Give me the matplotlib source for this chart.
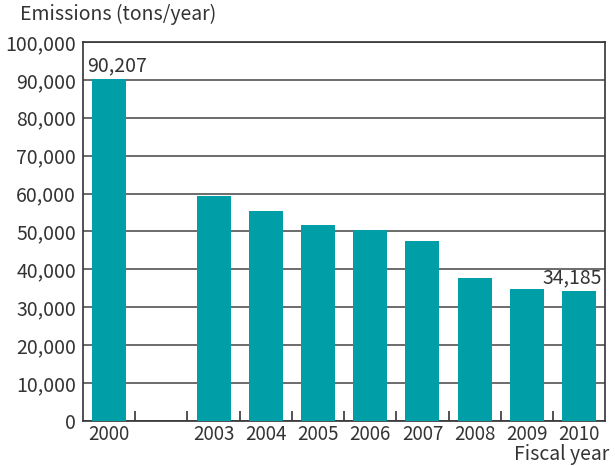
import matplotlib.pyplot as plt
from matplotlib.ticker import FuncFormatter, FixedLocator

# data (2001 and 2002 are empty slots)
years = ["2000", "", "2003", "2004", "2005", "2006", "2007", "2008", "2009", "2010"]
emissions = [90207, None, 59300, 55300, 51800, 50300, 47400, 37600, 34700, 34185]

plt.rcParams['font.family'] = ['Noto Sans CJK JP', 'DejaVu Sans']
text_color = "#333333"
bar_color = "#009FA8"
fs = 14

fig = plt.figure(figsize=(6.15, 4.66), dpi=100)
ax = fig.add_axes([0.135, 0.0966, 0.849, 0.8134])

xs = [i for i, v in enumerate(emissions) if v is not None]
vals = [v for v in emissions if v is not None]
ax.bar(xs, vals, width=0.65, color=bar_color, zorder=3)

ax.set_xlim(-0.5, len(years) - 0.5)
ax.set_ylim(0, 100000)
ax.set_yticks(range(0, 100001, 10000))
ax.yaxis.set_major_formatter(FuncFormatter(lambda v, p: f"{int(v):,}"))
ax.grid(axis="y", color="#444444", linewidth=1.1, zorder=1)

ax.set_xticks(range(len(years)))
ax.set_xticklabels(years)
ax.xaxis.set_minor_locator(FixedLocator([i + 0.5 for i in range(len(years) - 1)]))
ax.tick_params(axis="x", which="major", length=0, pad=2, labelsize=13.5, colors=text_color)
ax.tick_params(axis="x", which="minor", direction="in", length=7, width=1.2, color="#333333")
ax.tick_params(axis="y", length=0, pad=5, labelsize=fs, colors=text_color)

for s in ax.spines.values():
    s.set_color("#333333")
    s.set_linewidth(1.2)

# value labels on first and last bar
ax.annotate("90,207", (0, emissions[0]), xytext=(6, 2), textcoords="offset points",
            ha="center", va="bottom", fontsize=fs, color=text_color)
ax.annotate("34,185", (9, emissions[-1]), xytext=(-5, 2), textcoords="offset points",
            ha="center", va="bottom", fontsize=fs, color=text_color)

fig.text(0.032, 0.968, "Emissions (tons/year)", ha="left", va="center",
         fontsize=fs, color=text_color)
fig.text(0.99, 0.003, "Fiscal year", ha="right", va="bottom",
         fontsize=fs, color=text_color)

fig.savefig("out.png", dpi=100)
